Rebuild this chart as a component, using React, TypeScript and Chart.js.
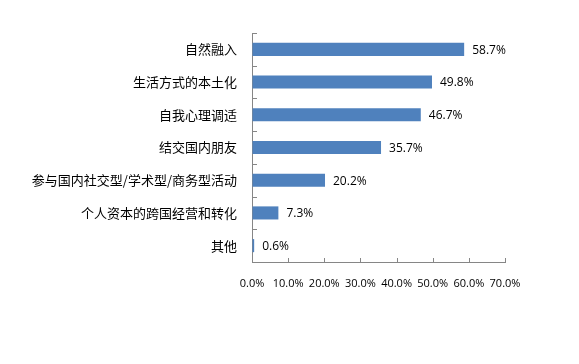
import React, { useEffect, useRef } from "react";
import { Chart, registerables } from "chart.js";

Chart.register(...registerables);

const categories = [
  "自然融入",
  "生活方式的本土化",
  "自我心理调适",
  "结交国内朋友",
  "参与国内社交型/学术型/商务型活动",
  "个人资本的跨国经营和转化",
  "其他",
];
const values = [58.7, 49.8, 46.7, 35.7, 20.2, 7.3, 0.6];
const xTickLabels = ["0.0%", "10.0%", "20.0%", "30.0%", "40.0%", "50.0%", "60.0%", "70.0%"];

const AXIS = "#868686";

const innerTicks = {
  id: "innerTicks",
  afterDraw(chart: any) {
    const ctx = chart.ctx;
    const { left, top, bottom } = chart.chartArea;
    const xs = chart.scales.x;
    ctx.save();
    ctx.strokeStyle = AXIS;
    ctx.lineWidth = 1;
    ctx.beginPath();
    const n = categories.length;
    for (let i = 0; i <= n; i++) {
      const y = Math.round(top + ((bottom - top) * i) / n) + 0.5;
      ctx.moveTo(left, y);
      ctx.lineTo(left + 5, y);
    }
    for (let i = 0; i < xTickLabels.length; i++) {
      const x = Math.round(xs.getPixelForValue(i * 10)) + 0.5;
      ctx.moveTo(x, bottom);
      ctx.lineTo(x, bottom - 4);
    }
    ctx.stroke();
    ctx.restore();
  },
};

const valueLabels = {
  id: "valueLabels",
  afterDatasetsDraw(chart: any) {
    const ctx = chart.ctx;
    const meta = chart.getDatasetMeta(0);
    ctx.save();
    ctx.font = '12px "Open Sans"';
    ctx.fillStyle = "#000";
    ctx.textAlign = "left";
    ctx.textBaseline = "middle";
    meta.data.forEach((bar: any, i: number) => {
      ctx.fillText(values[i].toFixed(1) + "%", bar.x + 8, bar.y + 1);
    });
    ctx.restore();
  },
};

export default function App() {
  const ref = useRef<HTMLCanvasElement>(null);
  useEffect(() => {
    document.body.style.margin = "0";
    const chart = new Chart(ref.current!, {
      type: "bar",
      data: {
        labels: categories,
        datasets: [
          {
            data: values,
            backgroundColor: "#4F81BD",
            borderWidth: 0,
            barPercentage: 0.4,
            categoryPercentage: 1,
          },
        ],
      },
      options: {
        indexAxis: "y",
        animation: false,
        responsive: false,
        devicePixelRatio: 1,
        layout: { padding: { top: 33, right: 74, bottom: 0, left: 0 } },
        plugins: {
          legend: { display: false },
          tooltip: { enabled: false },
        },
        scales: {
          x: {
            min: 0,
            max: 70,
            ticks: {
              stepSize: 10,
              padding: 15,
              color: "#000",
              font: { family: "Open Sans", size: 11 },
              maxRotation: 0,
              autoSkip: false,
              callback: (_v: any, i: number) => xTickLabels[i],
            },
            grid: { color: "transparent", drawTicks: false },
            border: { display: true, color: AXIS, width: 1 },
            afterFit: (s: any) => {
              s.height = 102;
            },
          },
          y: {
            ticks: {
              padding: 15,
              color: "#000",
              font: { family: "Noto Sans CJK SC", size: 13 },
              autoSkip: false,
            },
            grid: { color: "transparent", drawTicks: false },
            border: { display: true, color: AXIS, width: 1 },
            afterFit: (s: any) => {
              s.width = 252;
            },
          },
        },
      },
      plugins: [innerTicks, valueLabels],
    });
    return () => chart.destroy();
  }, []);
  return (
    <div style={{ width: 579, height: 364, background: "#fff" }}>
      <canvas ref={ref} width={579} height={364} />
    </div>
  );
}
